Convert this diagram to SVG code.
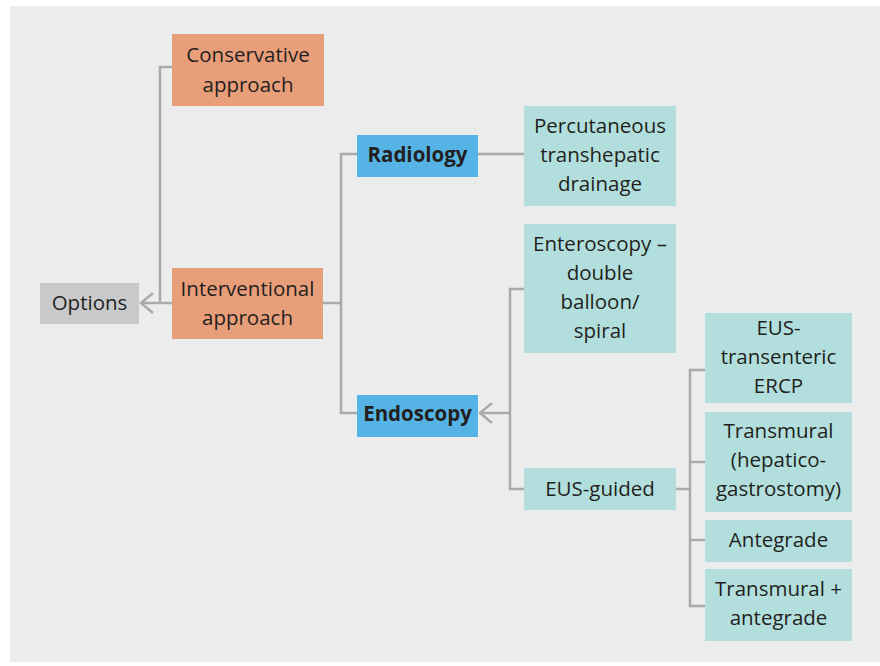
<svg xmlns="http://www.w3.org/2000/svg" width="880" height="666" viewBox="0 0 880 666">
<defs>
<style>
.t{font-family:"Open Sans","Noto Sans",sans-serif;font-size:20.5px;fill:#231f20;text-anchor:middle}
.b{font-weight:bold}
.or{fill:#e99e7a}
.bl{fill:#55b4e5}
.te{fill:#b2dfdd}
.gr{fill:#c8c9ca}
.c{fill:none;stroke:#a9aaac;stroke-width:2.5}
</style>
</defs>
<rect x="0" y="0" width="880" height="666" fill="#ffffff"/>
<rect x="10" y="6" width="870" height="656" fill="#ebeded"/>
<g id="connectors">
<path class="c" d="M172,303 H141"/>
<path class="c" d="M153,293 L141,303 L153,313"/>
<path class="c" d="M172,67 H160 V303"/>
<path class="c" d="M323,303 H341"/>
<path class="c" d="M357,154 H341 V413 H357"/>
<path class="c" d="M478,154 H524"/>
<path class="c" d="M510,413 H480"/>
<path class="c" d="M492,403 L480,413 L492,423"/>
<path class="c" d="M524,289 H510 V489 H524"/>
<path class="c" d="M676,489 H690"/>
<path class="c" d="M705,370 H690 V606 H705"/>
<path class="c" d="M690,462 H705"/>
<path class="c" d="M690,540 H705"/>
</g>
<g id="options">
<rect class="gr" x="40" y="283" width="99" height="41"/>
<text class="t" x="89.5" y="310">Options</text>
</g>
<g id="conservative">
<rect class="or" x="172" y="34" width="152" height="72"/>
<text class="t" x="248" y="62">Conservative</text>
<text class="t" x="248" y="92">approach</text>
</g>
<g id="interventional">
<rect class="or" x="172" y="268" width="151" height="71"/>
<text class="t" x="247.5" y="296">Interventional</text>
<text class="t" x="247.5" y="325">approach</text>
</g>
<g id="radiology">
<rect class="bl" x="357" y="135" width="121" height="42"/>
<text class="t b" x="417.5" y="162">Radiology</text>
</g>
<g id="endoscopy">
<rect class="bl" x="357" y="395" width="121" height="42"/>
<text class="t b" x="417.5" y="421">Endoscopy</text>
</g>
<g id="percutaneous">
<rect class="te" x="524" y="106" width="152" height="100"/>
<text class="t" x="600" y="133">Percutaneous</text>
<text class="t" x="600" y="162">transhepatic</text>
<text class="t" x="600" y="191">drainage</text>
</g>
<g id="enteroscopy">
<rect class="te" x="524" y="224" width="152" height="129"/>
<text class="t" x="600" y="251">Enteroscopy –</text>
<text class="t" x="600" y="280">double</text>
<text class="t" x="600" y="309">balloon/</text>
<text class="t" x="600" y="338">spiral</text>
</g>
<g id="eus-guided">
<rect class="te" x="524" y="468" width="152" height="42"/>
<text class="t" x="600" y="496">EUS-guided</text>
</g>
<g id="eus-transenteric">
<rect class="te" x="705" y="313" width="147" height="90"/>
<text class="t" x="778.5" y="335">EUS-</text>
<text class="t" x="778.5" y="364">transenteric</text>
<text class="t" x="778.5" y="393">ERCP</text>
</g>
<g id="transmural">
<rect class="te" x="705" y="412" width="147" height="100"/>
<text class="t" x="778.5" y="438">Transmural</text>
<text class="t" x="778.5" y="467">(hepatico-</text>
<text class="t" x="778.5" y="496">gastrostomy)</text>
</g>
<g id="antegrade">
<rect class="te" x="705" y="520" width="147" height="42"/>
<text class="t" x="778.5" y="547">Antegrade</text>
</g>
<g id="transmural-antegrade">
<rect class="te" x="705" y="569" width="147" height="72"/>
<text class="t" x="778.5" y="596">Transmural +</text>
<text class="t" x="778.5" y="625">antegrade</text>
</g>
</svg>
